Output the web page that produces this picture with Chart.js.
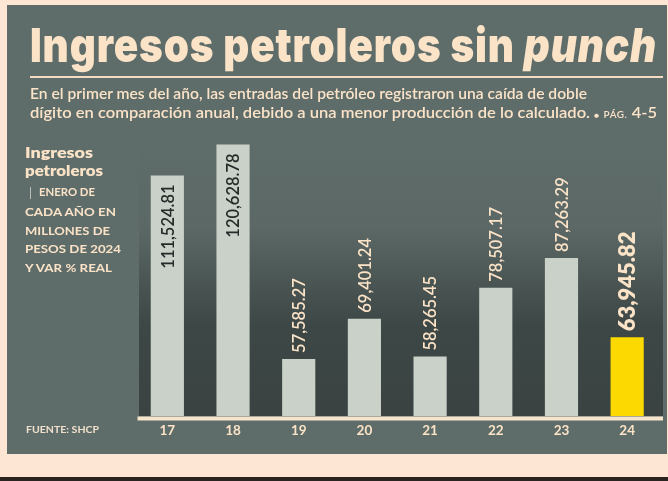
<!DOCTYPE html>
<html lang="es">
<head>
<meta charset="utf-8">
<title>Ingresos petroleros sin punch</title>
<script src="https://cdn.jsdelivr.net/npm/chart.js@4.4.1/dist/chart.umd.min.js"></script>
<style>
  html, body { margin: 0; padding: 0; }
  body { width: 668px; height: 481px; background: #fde6d3; position: relative; overflow: hidden; font-family: "Lato", "Noto Sans", sans-serif; }
  #panel { position: absolute; left: 7px; top: 5px; width: 660px; height: 449px; background: #5f6d6a; }
  #strip { position: absolute; left: 0; top: 477px; width: 668px; height: 4px; background: #2b2320; }
  #chartBox { position: absolute; left: 0; top: 0; width: 668px; height: 481px; }
  .t { position: absolute; color: #fbe3c8; white-space: nowrap; transform-origin: 0 50%; }
  #title { left: 30px; top: 21px; font-family: "Inter", "Lato", sans-serif; font-size: 47px; line-height: 47px; font-weight: 900; letter-spacing: 1px; }
  #title i { font-style: italic; }
  #rule { position: absolute; left: 30px; top: 76px; width: 633px; height: 2px; background: #f3dcc3; }
  .sub { left: 30px; font-size: 15px; line-height: 15px; font-weight: 600; }
  .sub small { font-size: 9px; letter-spacing: 0.5px; }
  .sub .dot { font-size: 8px; }
  .side { left: 25px; font-weight: 700; }
  .big { font-size: 15px; line-height: 15px; font-weight: 800; }
  .cap { font-size: 10.5px; line-height: 10.5px; }
  #pipe { position: absolute; left: 30px; top: 187px; width: 1px; height: 12px; background: #b9bdb6; }
  #fuente { left: 26px; top: 425px; font-size: 9.8px; line-height: 9.8px; font-weight: 700; color: #f1e0cc; }
</style>
</head>
<body>
<div id="panel"></div>
<div id="strip"></div>
<div id="chartBox"><canvas id="ingresosChart" width="668" height="481"></canvas></div>

<div class="t" id="title" data-w="627">Ingresos petroleros sin <i>punch</i></div>
<div id="rule"></div>
<div class="t sub" style="top:85.7px" data-w="557">En el primer mes del año, las entradas del petróleo registraron una caída de doble</div>
<div class="t sub" style="top:104.7px" data-w="627">dígito en comparación anual, debido a una menor producción de lo calculado. <span class="dot">●</span> <small>PÁG.</small> 4-5</div>

<div class="t side big" style="top:144.7px" data-w="68">Ingresos</div>
<div class="t side big" style="top:162.7px" data-w="78">petroleros</div>
<div id="pipe"></div>
<div class="t side cap" style="left:39px;top:186.7px" data-w="56">ENERO DE</div>
<div class="t side cap" style="top:206.7px" data-w="91">CADA AÑO EN</div>
<div class="t side cap" style="top:225.7px" data-w="85">MILLONES DE</div>
<div class="t side cap" style="top:244.2px" data-w="96">PESOS DE 2024</div>
<div class="t side cap" style="top:262.7px" data-w="87">Y VAR % REAL</div>
<div class="t" id="fuente" data-w="73">FUENTE: SHCP</div>

<script>
(function () {
    'use strict';

    // Enero de cada año, millones de pesos de 2024
    const years = ["17", "18", "19", "20", "21", "22", "23", "24"];
    const ingresos = [111524.81, 120628.78, 57585.27, 69401.24, 58265.45, 78507.17, 87263.29, 63945.82];

    const CREAM = "#fbe3c8";
    const BAR = "#c9d1c9";
    const HIGHLIGHT = "#fcd900";

    // ajustar anchos de los textos al original
    document.querySelectorAll("[data-w]").forEach(el => {
        const w = el.getBoundingClientRect().width;
        const target = parseFloat(el.dataset.w);
        if (w > 0) el.style.transform = `scaleX(${target / w})`;
    });

    function fmt(v) {
        return v.toLocaleString("en-US", { minimumFractionDigits: 2, maximumFractionDigits: 2 });
    }

    // fondo degradado del area de barras + linea base
    const fondoPlugin = {
        id: "fondo",
        beforeDatasetsDraw(chart) {
            const { ctx, chartArea } = chart;
            const x0 = chartArea.left + 4.5;
            const x1 = chartArea.right + 3;
            const g = ctx.createLinearGradient(0, chartArea.top, 0, chartArea.bottom);
            g.addColorStop(0, "#5f6d6a");
            g.addColorStop(0.33, "#5b6866");
            g.addColorStop(0.68, "#3d4745");
            g.addColorStop(1, "#3a4341");
            ctx.save();
            ctx.fillStyle = g;
            ctx.fillRect(x0, chartArea.top, x1 - x0, chartArea.bottom - chartArea.top);
            ctx.restore();
        },
        afterDatasetsDraw(chart) {
            const { ctx, chartArea } = chart;
            ctx.save();
            ctx.fillStyle = "#f6e4cc";
            ctx.fillRect(chartArea.left + 3, chartArea.bottom + 0.5, chartArea.right - chartArea.left, 4);
            ctx.restore();
        }
    };

    // etiquetas verticales con el valor de cada barra
    const etiquetasPlugin = {
        id: "etiquetas",
        afterDatasetsDraw(chart) {
            const { ctx, chartArea } = chart;
            const meta = chart.getDatasetMeta(0);
            const last = meta.data.length - 1;
            meta.data.forEach((bar, i) => {
                const txt = fmt(ingresos[i]);
                const destacado = i === last;
                ctx.save();
                ctx.font = destacado ? "800 22px Lato, sans-serif" : "600 16.5px Lato, sans-serif";
                const len = ctx.measureText(txt).width;
                const gap = 6;
                const dentro = bar.y - gap - len < chartArea.top;
                ctx.textBaseline = "middle";
                if (dentro) {
                    ctx.translate(bar.x, bar.y + 9);
                    ctx.rotate(-Math.PI / 2);
                    ctx.textAlign = "right";
                    ctx.fillStyle = "#262a28";
                } else {
                    ctx.translate(bar.x, bar.y - gap);
                    ctx.rotate(-Math.PI / 2);
                    ctx.textAlign = "left";
                    ctx.fillStyle = CREAM;
                }
                ctx.fillText(txt, 0, 1);
                ctx.restore();
            });
        }
    };

    new Chart(document.getElementById("ingresosChart"), {
        type: "bar",
        data: {
            labels: years,
            datasets: [{
                label: "Ingresos petroleros",
                data: ingresos,
                backgroundColor: ingresos.map((_, i) => i === ingresos.length - 1 ? HIGHLIGHT : BAR),
                borderWidth: 0,
                barPercentage: 0.505,
                categoryPercentage: 1
            }]
        },
        options: {
            responsive: false,
            animation: false,
            devicePixelRatio: 1,
            layout: { padding: { left: 134.5, right: 8, top: 135, bottom: 0 } },
            plugins: { legend: { display: false }, tooltip: { enabled: false } },
            scales: {
                x: {
                    grid: { display: false, drawTicks: false },
                    border: { display: false },
                    ticks: {
                        color: CREAM,
                        font: { family: "Lato", size: 13.5, weight: "bold" },
                        padding: 7,
                        maxRotation: 0
                    },
                    afterFit(axis) { axis.height = 65; }
                },
                y: {
                    display: false,
                    min: 40800,
                    max: 123400
                }
            }
        },
        plugins: [fondoPlugin, etiquetasPlugin]
    });
})();
</script>
</body>
</html>
